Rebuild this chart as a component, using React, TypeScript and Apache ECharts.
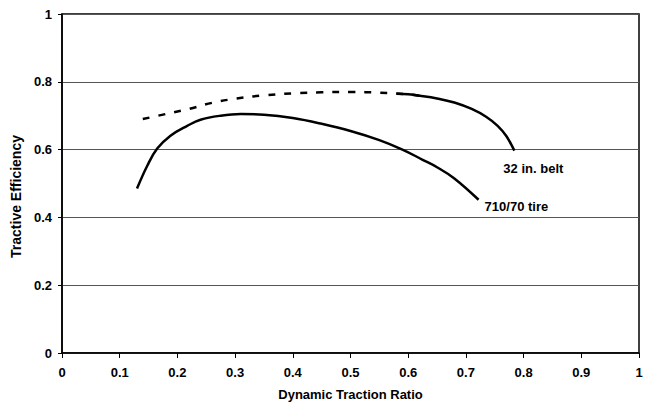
import React, { useEffect, useRef } from "react";
import * as echarts from "echarts";

const tireX = [0.13, 0.148, 0.165, 0.188, 0.217, 0.24, 0.275, 0.31, 0.35, 0.4, 0.45, 0.5, 0.55, 0.59, 0.625, 0.65, 0.68, 0.722];
const tireY = [0.485, 0.553, 0.603, 0.641, 0.67, 0.688, 0.7, 0.705, 0.703, 0.693, 0.676, 0.655, 0.628, 0.6, 0.57, 0.548, 0.515, 0.452];

const beltDashX = [0.14, 0.18, 0.22, 0.26, 0.3, 0.35, 0.4, 0.45, 0.5, 0.55, 0.6, 0.62];
const beltDashY = [0.69, 0.705, 0.72, 0.738, 0.75, 0.76, 0.766, 0.769, 0.77, 0.768, 0.763, 0.759];
const beltSolidX = [0.58, 0.6, 0.62, 0.65, 0.68, 0.71, 0.735, 0.755, 0.77, 0.784];
const beltSolidY = [0.765, 0.763, 0.759, 0.751, 0.739, 0.72, 0.697, 0.67, 0.64, 0.597];

const zip = (xs: number[], ys: number[]) => xs.map((x, i) => [x, ys[i]]);

export default function App() {
  const ref = useRef<HTMLDivElement>(null);
  useEffect(() => {
    if (!ref.current) return;
    const chart = echarts.init(ref.current, null, { renderer: "svg" });
    const font = "Liberation Sans, Arial, sans-serif";
    chart.setOption({
      animation: false,
      backgroundColor: "#fff",
      grid: { left: 62, right: 11, top: 14, bottom: 51, show: true, borderColor: "#000", borderWidth: 1.5 },
      xAxis: {
        type: "value",
        min: 0,
        max: 1,
        interval: 0.1,
        name: "Dynamic Traction Ratio",
        nameLocation: "middle",
        nameGap: 35,
        nameTextStyle: { fontFamily: font, fontSize: 13, fontWeight: "bold", color: "#000" },
        axisLine: { show: true, lineStyle: { color: "#000", width: 1.5 } },
        axisTick: { show: true, inside: false, length: 5, lineStyle: { color: "#000" } },
        axisLabel: { fontFamily: font, fontSize: 13, fontWeight: "bold", color: "#000", margin: 13 },
        splitLine: { show: false },
      },
      yAxis: {
        type: "value",
        min: 0,
        max: 1,
        interval: 0.2,
        name: "Tractive Efficiency",
        nameLocation: "middle",
        nameGap: 36,
        nameTextStyle: { fontFamily: font, fontSize: 14, fontWeight: "bold", color: "#000", padding: [0, 26, 0, 0] },
        axisLine: { show: true, lineStyle: { color: "#000", width: 1.5 } },
        axisTick: { show: true, inside: false, length: 4, lineStyle: { color: "#000" } },
        axisLabel: { fontFamily: font, fontSize: 13, fontWeight: "bold", color: "#000", margin: 10 },
        splitLine: { show: true, lineStyle: { color: "#555", width: 1 } },
      },
      series: [
        {
          type: "line",
          data: zip(tireX, tireY),
          smooth: 0.4,
          showSymbol: false,
          lineStyle: { color: "#000", width: 2.5 },
          endLabel: {
            show: true,
            formatter: "710/70 tire",
            fontFamily: font,
            fontSize: 13,
            fontWeight: "bold",
            color: "#000",
            distance: 5,
            offset: [1, 7],
          },
        },
        {
          type: "line",
          data: zip(beltDashX, beltDashY),
          smooth: 0.4,
          showSymbol: false,
          lineStyle: { color: "#000", width: 2.5, type: [7, 9] },
        },
        {
          type: "line",
          data: zip(beltSolidX, beltSolidY),
          smooth: 0.4,
          showSymbol: false,
          lineStyle: { color: "#000", width: 2.5 },
          endLabel: {
            show: true,
            formatter: "32 in. belt",
            fontFamily: font,
            fontSize: 13,
            fontWeight: "bold",
            color: "#000",
            distance: 5,
            offset: [-16, 18],
          },
        },
      ],
    });
    return () => chart.dispose();
  }, []);
  return <div ref={ref} style={{ position: "fixed", left: 0, top: 0, width: 650, height: 406 }} />;
}
